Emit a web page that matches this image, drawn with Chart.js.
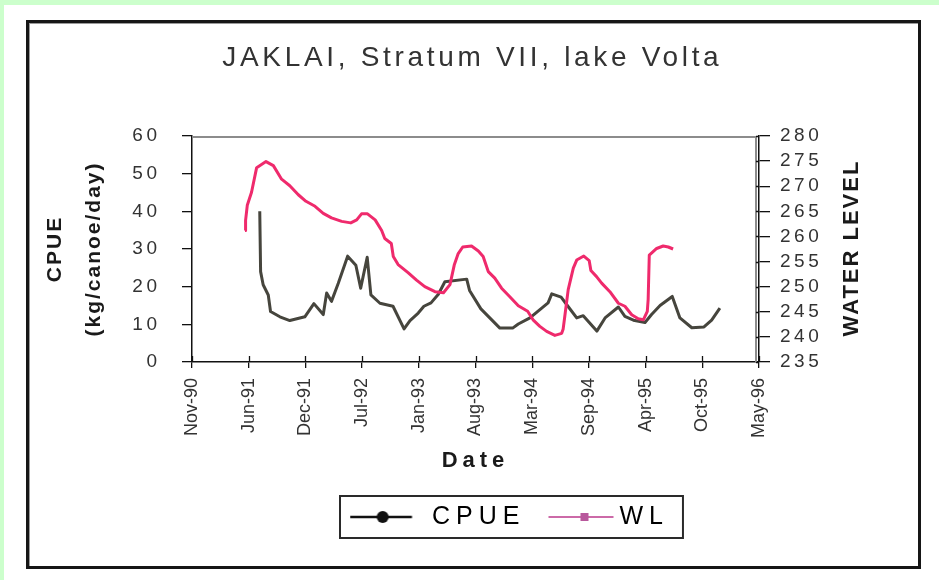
<!DOCTYPE html>
<html>
<head>
<meta charset="utf-8">
<title>JAKLAI, Stratum VII, lake Volta</title>
<script src="https://cdn.jsdelivr.net/npm/chart.js@4/dist/chart.umd.min.js"></script>
<style>
  html, body { margin: 0; padding: 0; }
  body { width: 939px; height: 580px; position: relative; overflow: hidden; background: #fff; }
  #bandTop { position: absolute; left: 0; top: 0; width: 939px; height: 5px; background: #ccffcc; }
  #bandLeft { position: absolute; left: 0; top: 0; width: 4px; height: 580px; background: #ccffcc; }
  #frame { position: absolute; left: 26px; top: 20px; width: 889px; height: 543px; border: 3px solid #161616; box-shadow: inset 1px 1px 0 #9a9a9a; }
  #jaklaiChart { position: absolute; left: 0; top: 0; }
</style>
</head>
<body>
<div id="bandTop"></div>
<div id="bandLeft"></div>
<div id="frame"></div>
<canvas id="jaklaiChart" width="939" height="580"></canvas>
<script>
// CPUE (kg/canoe/day), left axis
const cpueDates = ['1991-07-20', '1991-07-23', '1991-08-01', '1991-08-19', '1991-08-27', '1991-09-29', '1991-11-03', '1991-12-26',
  '1992-01-27', '1992-02-29', '1992-03-12', '1992-03-29', '1992-04-22', '1992-05-25', '1992-06-23', '1992-07-10', '1992-08-02',
  '1992-08-15', '1992-09-16', '1992-11-01', '1992-12-10', '1992-12-31', '1993-01-29', '1993-02-18', '1993-03-15', '1993-04-10',
  '1993-05-03', '1993-07-19', '1993-07-29', '1993-09-07', '1993-11-13', '1993-12-28', '1994-01-17', '1994-02-27', '1994-05-02',
  '1994-05-15', '1994-06-17', '1994-07-07', '1994-08-11', '1994-09-03', '1994-10-21', '1994-11-19', '1995-01-05', '1995-01-28',
  '1995-02-27', '1995-04-09', '1995-05-02', '1995-06-01', '1995-07-14', '1995-08-10', '1995-09-21', '1995-11-03', '1995-11-30',
  '1995-12-29'];
const cpueValues = [40, 24, 20.5, 17.8, 13.4, 12.0, 11.0, 12.0, 15.5, 12.6, 18.3, 16.1, 20.9, 28.1, 25.7, 19.6, 27.8, 17.8, 15.6,
  14.8, 8.8, 11.0, 13.0, 14.8, 15.7, 18.0, 21.3, 22.0, 19.0, 14.1, 9.0, 9.0, 10.1, 11.7, 15.7, 18.1, 17.2, 15.2, 11.7, 12.3, 8.2,
  11.7, 14.6, 12.1, 11.1, 10.5, 12.6, 15.0, 17.4, 11.7, 9.1, 9.3, 11.1, 14.3];

// water level, right axis
const wlDates = ['1991-05-29', '1991-05-31', '1991-06-06', '1991-06-21', '1991-07-09', '1991-08-11', '1991-09-06', '1991-10-05',
  '1991-11-03', '1991-12-03', '1991-12-30', '1992-01-31', '1992-02-29', '1992-03-29', '1992-05-04', '1992-06-05', '1992-06-26',
  '1992-07-13', '1992-08-03', '1992-08-30', '1992-09-22', '1992-10-03', '1992-10-26', '1992-11-02', '1992-11-19', '1992-12-24',
  '1993-01-23', '1993-02-21', '1993-03-29', '1993-04-28', '1993-05-21', '1993-06-05', '1993-06-19', '1993-07-05', '1993-08-05',
  '1993-08-29', '1993-09-15', '1993-10-03', '1993-10-26', '1993-11-19', '1993-12-18', '1994-01-17', '1994-02-19', '1994-03-10',
  '1994-04-03', '1994-04-27', '1994-05-26', '1994-06-19', '1994-06-24', '1994-06-30', '1994-07-12', '1994-07-30', '1994-08-11',
  '1994-09-05', '1994-09-24', '1994-09-30', '1994-10-20', '1994-11-07', '1994-12-06', '1995-01-05', '1995-01-28', '1995-02-21',
  '1995-03-16', '1995-04-03', '1995-04-17', '1995-04-20', '1995-04-24', '1995-05-20', '1995-06-12', '1995-06-30', '1995-07-17'];
const wlValues = [261.2, 263.2, 266.2, 268.8, 273.7, 274.9, 274.1, 271.4, 270.1, 268.3, 267.0, 266.0, 264.6, 263.7, 263.0, 262.7,
  263.3, 264.5, 264.5, 263.3, 261.2, 259.6, 258.6, 256.0, 254.4, 252.8, 251.3, 250.0, 249.0, 248.8, 250.4, 254.3, 256.6, 257.9,
  258.1, 257.1, 256.0, 253.0, 251.7, 249.7, 248.0, 246.2, 245.1, 243.4, 242.1, 241.1, 240.3, 240.7, 241.5, 244.1, 249.4, 253.7,
  255.3, 256.1, 255.2, 253.2, 252.0, 250.7, 249.0, 246.7, 246.1, 244.4, 243.6, 243.4, 245.1, 247.4, 256.3, 257.6, 258.1, 257.9,
  257.5];

// date axis ticks (every 200 days)
const xTickDates = ['1990-11-23', '1991-06-11', '1991-12-28', '1992-07-15', '1993-01-31', '1993-08-19', '1994-03-07',
  '1994-09-23', '1995-04-11', '1995-10-28', '1996-05-15'];
const xTickLabels = ['Nov-90', 'Jun-91', 'Dec-91', 'Jul-92', 'Jan-93', 'Aug-93', 'Mar-94', 'Sep-94', 'Apr-95', 'Oct-95', 'May-96'];

const FONT = "'Liberation Sans', Arial, sans-serif";
const TITLE_WIDTH = 500;
const LEGEND_LEFT = 340;

const day = s => Date.parse(s) / 86400000;

// small line+marker pictures for the legend keys
function legendSample(color, width, x0, x1, marker, mx, size, markerColor) {
  const c = document.createElement('canvas');
  c.width = 80;
  c.height = 24;
  const g = c.getContext('2d');
  g.strokeStyle = color;
  g.lineWidth = width;
  g.beginPath();
  g.moveTo(x0, 12);
  g.lineTo(x1, 12);
  g.stroke();
  g.fillStyle = markerColor;
  if (marker === 'circle') {
    g.beginPath();
    g.arc(mx, 12, size, 0, Math.PI * 2);
    g.fill();
  } else {
    g.fillRect(mx - size / 2, 12 - size / 2, size, size);
  }
  return c;
}

// run a draw/fit method with a given canvas letter spacing
function spaced(obj, name, spacing) {
  const orig = obj[name];
  obj[name] = function () {
    const ctx = this.ctx;
    const prev = ctx.letterSpacing;
    ctx.letterSpacing = spacing;
    const out = orig.apply(this, arguments);
    ctx.letterSpacing = prev;
    return out;
  };
}

// right axis title reads bottom to top, like the left one
function drawUpTitle() {
  const t = this.options.title;
  const ctx = this.ctx;
  const lh = t.font.size * 1.2;
  ctx.save();
  ctx.font = 'bold ' + t.font.size + 'px ' + FONT;
  ctx.letterSpacing = '2px';
  ctx.fillStyle = t.color;
  ctx.textAlign = 'center';
  ctx.textBaseline = 'middle';
  ctx.translate(this.left + t.padding.top + lh / 2, (this.top + this.bottom) / 2);
  ctx.rotate(-Math.PI / 2);
  ctx.fillText(t.text, 1, 0);
  ctx.restore();
}

const excelLook = {
  id: 'excelLook',
  afterInit(chart) {
    const tb = chart.titleBlock;
    const titleDraw = tb.draw;
    tb.draw = function () {
      const ctx = this.ctx;
      const o = this.options;
      ctx.save();
      ctx.font = 'normal ' + o.font.size + 'px ' + o.font.family;
      ctx.letterSpacing = '0px';
      const w = ctx.measureText(o.text).width;
      const sp = Math.max(0, (TITLE_WIDTH - w) / o.text.length);
      ctx.letterSpacing = sp + 'px';
      ctx.translate(sp / 2, 0);
      titleDraw.call(this);
      ctx.restore();
    };

    const lg = chart.legend;
    spaced(lg, 'fit', '6px');
    const legendDraw = lg.draw;
    lg.draw = function () {
      const ctx = this.ctx;
      const pad = this.options.labels.padding;
      const natural = (this.left + pad + this.right - this.lineWidths[0]) / 2;
      const startX = LEGEND_LEFT + 19.5;
      const dx = startX - natural;
      this.left += dx;
      this.right += dx;
      ctx.save();
      ctx.letterSpacing = '6px';
      legendDraw.call(this);
      ctx.restore();
      this.left -= dx;
      this.right -= dx;
      // box round the legend
      const cy = this.top + pad + this.options.labels.font.size / 2;
      ctx.save();
      ctx.strokeStyle = '#2a2a2a';
      ctx.lineWidth = 2;
      ctx.strokeRect(LEGEND_LEFT, cy - 21, startX + this.lineWidths[0] - 7.5 - LEGEND_LEFT, 42);
      ctx.restore();
    };
  },
  beforeDraw(chart) {
    const s = chart.scales;
    if (s.y._spaced) return;
    spaced(s.y, 'drawLabels', '3.5px');
    spaced(s.y, 'drawTitle', '2px');
    spaced(s.y1, 'drawLabels', '3.5px');
    spaced(s.x, 'drawTitle', '5px');
    s.y1.drawTitle = drawUpTitle;
    s.y._spaced = true;
  },
  beforeDatasetsDraw(chart) {
    // grey plot-area edge on top and right
    const {ctx, chartArea: a} = chart;
    ctx.save();
    ctx.strokeStyle = '#8c8c8c';
    ctx.lineWidth = 2;
    ctx.beginPath();
    ctx.moveTo(a.left, a.top + 1);
    ctx.lineTo(a.right - 3, a.top + 1);
    ctx.lineTo(a.right - 3, a.bottom);
    ctx.stroke();
    ctx.restore();
  },
  afterDraw(chart) {
    // inner half of the crossing tick marks
    const {ctx, scales: {x, y1}} = chart;
    ctx.save();
    ctx.strokeStyle = '#111';
    ctx.lineWidth = 1.3;
    ctx.beginPath();
    x.ticks.forEach(t => {
      const px = Math.round(x.getPixelForValue(t.value)) + 0.5;
      ctx.moveTo(px, x.top);
      ctx.lineTo(px, x.top - 6);
    });
    y1.ticks.forEach(t => {
      const py = Math.round(y1.getPixelForValue(t.value)) + 0.5;
      ctx.moveTo(y1.left, py);
      ctx.lineTo(y1.left - 3, py);
    });
    ctx.stroke();
    ctx.restore();
  }
};

const cpueKey = legendSample('#111', 2.5, 0.5, 62.5, 'circle', 33.2, 6, '#111');
const wlKey = legendSample('#cc6aa8', 2, 11.5, 76.5, 'square', 47.5, 8, '#b8589c');

const ctx = document.getElementById('jaklaiChart').getContext('2d');
new Chart(ctx, {
  type: 'line',
  data: {
    datasets: [{
      label: 'CPUE',
      data: cpueDates.map((d, i) => ({x: day(d), y: cpueValues[i]})),
      yAxisID: 'y',
      borderColor: '#46453d',
      borderWidth: 3,
      borderJoinStyle: 'round',
      pointRadius: 0,
      tension: 0,
      order: 1
    }, {
      label: 'WL',
      data: wlDates.map((d, i) => ({x: day(d), y: wlValues[i]})),
      yAxisID: 'y1',
      borderColor: '#ef2a6c',
      borderWidth: 3,
      borderJoinStyle: 'round',
      pointRadius: 0,
      tension: 0,
      order: 0
    }]
  },
  options: {
    responsive: false,
    animation: false,
    events: [],
    layout: {padding: {left: 30, right: 28, top: 21, bottom: 40.5}},
    scales: {
      x: {
        type: 'linear',
        position: 'bottom',
        min: day(xTickDates[0]),
        max: day(xTickDates[xTickDates.length - 1]),
        afterBuildTicks: scale => { scale.ticks = xTickDates.map(d => ({value: day(d)})); },
        afterFit: scale => { scale.height = 121; },
        ticks: {
          autoSkip: false,
          minRotation: 90,
          maxRotation: 90,
          padding: 10,
          color: '#333',
          font: {family: FONT, size: 18},
          callback: (value, index) => xTickLabels[index]
        },
        grid: {drawOnChartArea: false, tickLength: 6, color: '#111', lineWidth: 1.3},
        border: {color: '#111', width: 1.5},
        title: {
          display: true,
          text: 'Date',
          color: '#1a1a1a',
          font: {family: FONT, size: 22, weight: 'bold'},
          padding: {top: 0, bottom: 8.8}
        }
      },
      y: {
        type: 'linear',
        position: 'left',
        min: 0,
        max: 60,
        afterFit: scale => { scale.width = 162; },
        ticks: {stepSize: 10, autoSkip: false, padding: 21.5, color: '#333', font: {family: FONT, size: 19}},
        grid: {drawOnChartArea: false, tickLength: 10, color: '#111', lineWidth: 1.3},
        border: {color: '#111', width: 1.5},
        title: {
          display: true,
          text: ['CPUE', '(kg/canoe/day)'],
          color: '#1a1a1a',
          font: {family: FONT, size: 21, weight: 'bold', lineHeight: '39px'},
          padding: {top: 5.5, bottom: 0}
        }
      },
      y1: {
        type: 'linear',
        position: 'right',
        min: 235,
        max: 280,
        afterFit: scale => { scale.width = 152; },
        ticks: {stepSize: 5, autoSkip: false, padding: 10, color: '#333', font: {family: FONT, size: 19}},
        grid: {drawOnChartArea: false, tickLength: 11, color: '#111', lineWidth: 1.3},
        border: {color: '#111', width: 1.5},
        title: {
          display: true,
          text: 'WATER LEVEL',
          color: '#1a1a1a',
          font: {family: FONT, size: 22, weight: 'bold'},
          padding: {top: 80, bottom: 0}
        }
      }
    },
    plugins: {
      title: {
        display: true,
        text: 'JAKLAI, Stratum VII, lake Volta',
        color: '#333',
        font: {family: "'Liberation Sans Narrow', 'Liberation Sans', sans-serif", size: 28, weight: 'normal', lineHeight: 1.2},
        padding: {top: 20.2, bottom: 61.2}
      },
      legend: {
        display: true,
        position: 'bottom',
        labels: {
          usePointStyle: true,
          pointStyleWidth: 60,
          padding: 21.5,
          color: '#222',
          font: {family: FONT, size: 25},
          generateLabels: () => [
            {text: 'CPUE', pointStyle: cpueKey, fillStyle: '#111', strokeStyle: '#111', lineWidth: 0, hidden: false, datasetIndex: 0},
            {text: 'WL', pointStyle: wlKey, fillStyle: '#b8589c', strokeStyle: '#b8589c', lineWidth: 0, hidden: false, datasetIndex: 1}
          ]
        }
      },
      tooltip: {enabled: false}
    }
  },
  plugins: [excelLook]
});
</script>
</body>
</html>
